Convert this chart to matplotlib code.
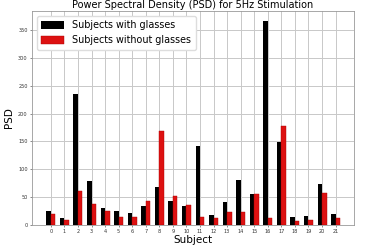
import numpy as np
import matplotlib
matplotlib.use('Agg')
import matplotlib.pyplot as plt

subjects = list(range(22))
with_glasses = [24, 11, 235, 79, 30, 24, 21, 33, 68, 42, 34,
                142, 17, 40, 81, 55, 367, 149, 14, 16, 74, 20]
without_glasses = [20, 8, 60, 38, 25, 13, 13, 42, 169, 52, 36,
                   13, 11, 23, 23, 56, 12, 177, 7, 8, 57, 12]

x = np.arange(len(subjects))
width = 0.33

fig = plt.figure(figsize=(3.66, 2.46), dpi=100)
ax = fig.add_axes([0.087, 0.087, 0.88, 0.869])
ax.bar(x - width / 2, with_glasses, width, color='black', label='Subjects with glasses', zorder=3)
ax.bar(x + width / 2, without_glasses, width, color='#dd1111', edgecolor='#aa0000', linewidth=0.3,
       label='Subjects without glasses', zorder=3)

ax.set_xticks(x)
ax.set_xticklabels([str(s) for s in subjects])
ax.set_xlim(-1.4, 22.35)
ax.tick_params(labelsize=3.6, length=1.5, width=0.4, pad=1.5, colors='#333333')
ax.grid(True, color='#c8c8c8', linewidth=0.7, zorder=0)
for s in ax.spines.values():
    s.set_color('#999999')
    s.set_linewidth(0.6)

ax.set_title('Power Spectral Density (PSD) for 5Hz Stimulation', fontsize=7, pad=2)
ax.set_xlabel('Subject', fontsize=7.5, labelpad=1)
ax.set_ylabel('PSD', fontsize=7.5, labelpad=3)
ax.legend(loc='upper left', fontsize=6.9, handlelength=2.4, handleheight=0.8,
          framealpha=1, edgecolor='#dddddd', borderpad=0.5)

fig.savefig('out.png', dpi=100)
